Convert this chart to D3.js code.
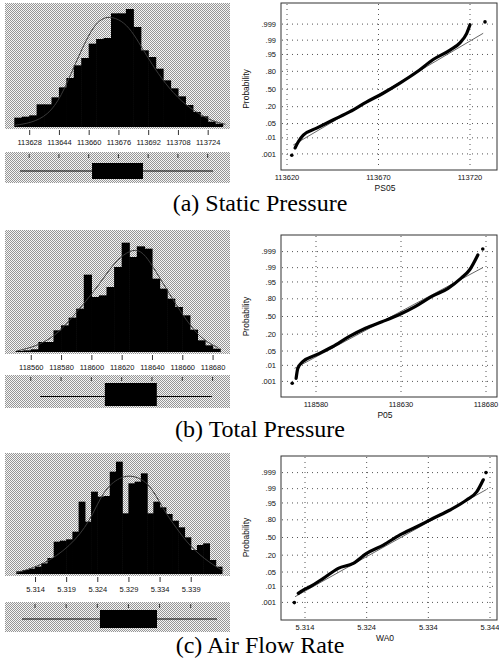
<!DOCTYPE html>
<html>
<head>
<meta charset="utf-8">
<script src="https://cdn.jsdelivr.net/npm/d3@7/dist/d3.min.js"></script>
<style>
  html, body { margin: 0; padding: 0; background: #fff; }
  svg { display: block; }
  .tick-label { font-family: "Liberation Sans", Arial, sans-serif; font-size: 7.5px; fill: #111; }
  .axis-title { font-family: "Liberation Sans", Arial, sans-serif; font-size: 8.5px; fill: #111; }
  .caption { font-family: "Liberation Serif", "Times New Roman", serif; font-size: 24px; fill: #000; }
</style>
</head>
<body>
<svg id="chart" width="499" height="659"></svg>
<script>
// ---------------- data ----------------

// probability axis (shared by the three normal plots)
const probTicks = [0.001, 0.01, 0.05, 0.20, 0.50, 0.80, 0.95, 0.99, 0.999];
const probLabels = [".001", ".01", ".05", ".20", ".50", ".80", ".95", ".99", ".999"];

// (a) static pressure
const staticBinStart = 113620;
const staticBinWidth = 4;
const staticCounts = [28, 31, 35, 68, 68, 89, 119, 147, 185, 207, 250, 264, 267, 341, 341, 354, 300, 230, 210, 175, 140, 116, 92, 66, 45, 32, 16, 10];
const staticCurveX = [113620, 113629, 113638, 113645.2, 113652.4, 113661.4, 113666.8, 113671.4, 113677.6, 113683, 113688.4, 113693.8, 113701.1, 113710, 113719, 113726.3, 113733.5];
const staticCurveY = [5, 12, 35, 90, 185, 295, 325, 332, 320, 290, 240, 190, 130, 75, 40, 18, 8];
const staticHistTicks = [113628, 113644, 113660, 113676, 113692, 113708, 113724];
const staticBox = [113623.1, 113661.8, 113689.2, 113726.9]; // whisker lo, q1, q3, whisker hi
const staticProbTicks = [113620, 113670, 113720];
const staticSampleX = [113622.6, 113624.4, 113626.2, 113628.9, 113636.2, 113645.1, 113654.4, 113663.6, 113672.5, 113681.7, 113690.9, 113699.9, 113709.1, 113714.5, 113718.2, 113720, 113728.2];
const staticSampleP = [0.0008, 0.0025, 0.006, 0.014, 0.031, 0.07, 0.14, 0.27, 0.42, 0.61, 0.79, 0.92, 0.968, 0.986, 0.996, 0.9989, 0.9993];
const staticFitX = [113623.4, 113727.2];
const staticFitP = [0.0038, 0.996];

// (b) total pressure
const totalBinStart = 118550;
const totalBinWidth = 5;
const totalCounts = [3, 5, 8, 30, 30, 65, 80, 103, 130, 232, 165, 170, 195, 255, 328, 285, 317, 310, 220, 190, 160, 135, 110, 67, 35, 20, 10];
const totalCurveX = [118550.8, 118566.1, 118579.3, 118590.3, 118602.4, 118612.3, 118618.9, 118627.6, 118634.2, 118640.8, 118647.4, 118656.2, 118665, 118673.8, 118683.7];
const totalCurveY = [3, 20, 60, 120, 185, 250, 285, 310, 300, 255, 205, 140, 80, 35, 13];
const totalHistTicks = [118560, 118580, 118600, 118620, 118640, 118660, 118680];
const totalBox = [118566.1, 118608.9, 118643.2, 118679.5];
const totalProbTicks = [118580, 118630, 118680];
const totalSampleX = [118566.0, 118568.3, 118569.3, 118572.2, 118580, 118589.7, 118599.4, 118609.1, 118618.8, 118628.5, 118638.3, 118647.9, 118657.7, 118665.4, 118670.3, 118675.2, 118678.1];
const totalSampleP = [0.00074, 0.0016, 0.0068, 0.0158, 0.0336, 0.075, 0.168, 0.288, 0.40, 0.528, 0.68, 0.827, 0.91, 0.966, 0.9865, 0.9983, 0.99934];
const totalFitX = [118567.4, 118678.1];
const totalFitP = [0.0068, 0.99];

// (c) air flow rate
const flowBinStart = 5.311;
const flowBinWidth = 0.001;
const flowCounts = [8, 12, 16, 22, 32, 48, 97, 100, 104, 127, 217, 157, 247, 232, 234, 307, 337, 182, 272, 277, 302, 182, 217, 200, 180, 160, 140, 110, 72, 87, 92, 42, 22];
const flowCurveX = [5.31106, 5.31533, 5.31962, 5.32283, 5.32497, 5.32765, 5.32978, 5.33246, 5.3346, 5.33675, 5.33889, 5.3421, 5.34424];
const flowCurveY = [4, 27, 82, 157, 252, 292, 297, 272, 192, 137, 82, 32, 10];
const flowHistTicks = [5.314, 5.319, 5.324, 5.329, 5.334, 5.339];
const flowBox = [5.31191, 5.32443, 5.33359, 5.34322];
const flowProbTicks = [5.314, 5.324, 5.334, 5.344];
const flowSampleX = [5.31227, 5.31291, 5.31372, 5.31481, 5.31697, 5.3194, 5.32183, 5.324, 5.3267, 5.3294, 5.33211, 5.3348, 5.33751, 5.3402, 5.34184, 5.34291, 5.34335];
const flowSampleP = [0.00097, 0.0039, 0.0062, 0.0096, 0.026, 0.071, 0.109, 0.226, 0.36, 0.548, 0.696, 0.82, 0.905, 0.963, 0.985, 0.997, 0.999];
const flowFitX = [5.31238, 5.34346];
const flowFitP = [0.0024, 0.989];

// ---------------- helpers ----------------

// inverse of the standard normal cdf (Acklam), used for the probability axis
function probit(p) {
  const a = [-3.969683028665376e+01, 2.209460984245205e+02, -2.759285104469687e+02, 1.383577518672690e+02, -3.066479806614716e+01, 2.506628277459239e+00];
  const b = [-5.447609879822406e+01, 1.615858368580409e+02, -1.556989798598866e+02, 6.680131188771972e+01, -1.328068155288572e+01];
  const c = [-7.784894002430293e-03, -3.223964580411365e-01, -2.400758277161838e+00, -2.549732539343734e+00, 4.374664141464968e+00, 2.938163982698783e+00];
  const d = [7.784695709041462e-03, 3.224671290700398e-01, 2.445134137142996e+00, 3.754408661907416e+00];
  const plow = 0.02425;
  let q, r;
  if (p < plow) {
    q = Math.sqrt(-2 * Math.log(p));
    return (((((c[0]*q+c[1])*q+c[2])*q+c[3])*q+c[4])*q+c[5]) / ((((d[0]*q+d[1])*q+d[2])*q+d[3])*q+1);
  }
  if (p > 1 - plow) {
    q = Math.sqrt(-2 * Math.log(1 - p));
    return -(((((c[0]*q+c[1])*q+c[2])*q+c[3])*q+c[4])*q+c[5]) / ((((d[0]*q+d[1])*q+d[2])*q+d[3])*q+1);
  }
  q = p - 0.5; r = q * q;
  return (((((a[0]*r+a[1])*r+a[2])*r+a[3])*r+a[4])*r+a[5])*q / (((((b[0]*r+b[1])*r+b[2])*r+b[3])*r+b[4])*r+1);
}

const svg = d3.select("#chart");

// dithered grey like the scanned panels
const pat = svg.append("defs").append("pattern")
  .attr("id", "dither").attr("patternUnits", "userSpaceOnUse")
  .attr("width", 2).attr("height", 2);
pat.append("rect").attr("width", 2).attr("height", 2).attr("fill", "#f6f6f6");
pat.append("rect").attr("x", 0).attr("y", 0).attr("width", 1).attr("height", 1).attr("fill", "#969696");
pat.append("rect").attr("x", 1).attr("y", 1).attr("width", 1).attr("height", 1).attr("fill", "#969696");

const rows = [
  {
    counts: staticCounts, binStart: staticBinStart, binWidth: staticBinWidth,
    curveX: staticCurveX, curveY: staticCurveY, histTicks: staticHistTicks, box: staticBox,
    probTicksX: staticProbTicks, sampleX: staticSampleX, sampleP: staticSampleP, fitX: staticFitX, fitP: staticFitP,
    fmtHist: d3.format("d"), fmtProb: d3.format("d"), title: "PS05", caption: "(a) Static Pressure",
    hist: { top: 3, base: 127, domain: [113615, 113736] },
    boxPanel: { top: 152, bottom: 183, boxTop: 163, boxBottom: 179, mid: 171 },
    prob: { top: 3, bottom: 170, domain: [113620, 113720], range: [287, 470], zMid: 89 },
    capY: 211
  },
  {
    counts: totalCounts, binStart: totalBinStart, binWidth: totalBinWidth,
    curveX: totalCurveX, curveY: totalCurveY, histTicks: totalHistTicks, box: totalBox,
    probTicksX: totalProbTicks, sampleX: totalSampleX, sampleP: totalSampleP, fitX: totalFitX, fitP: totalFitP,
    fmtHist: d3.format("d"), fmtProb: d3.format("d"), title: "P05", caption: "(b) Total Pressure",
    hist: { top: 230, base: 352, domain: [118543, 118691.5] },
    boxPanel: { top: 375, bottom: 408, boxTop: 383, boxBottom: 406, mid: 396.5 },
    prob: { top: 235, bottom: 397, domain: [118580, 118680], range: [316, 486], zMid: 316.5 },
    capY: 437
  },
  {
    counts: flowCounts, binStart: flowBinStart, binWidth: flowBinWidth,
    curveX: flowCurveX, curveY: flowCurveY, histTicks: flowHistTicks, box: flowBox,
    probTicksX: flowProbTicks, sampleX: flowSampleX, sampleP: flowSampleP, fitX: flowFitX, fitP: flowFitP,
    fmtHist: d3.format(".3f"), fmtProb: d3.format(".3f"), title: "WA0", caption: "(c) Air Flow Rate",
    hist: { top: 453, base: 574, domain: [5.30918, 5.34531] },
    boxPanel: { top: 602, bottom: 632, boxTop: 610, boxBottom: 628, mid: 619 },
    prob: { top: 456, bottom: 620, domain: [5.314, 5.344], range: [305, 490], zMid: 537.5 },
    capY: 653
  }
];

const histLeft = 5, histRight = 230;
const probLeft = 281, probRight = 497;
const zUnit = 21;

rows.forEach(row => {
  const g = svg.append("g");
  const h = row.hist;

  // ---- histogram ----
  const x = d3.scaleLinear().domain(h.domain).range([histLeft, histRight]);
  const y = d3.scaleLinear().domain([0, (h.base - h.top) * 3]).range([h.base, h.top]);

  g.append("rect")
    .attr("x", histLeft).attr("y", h.top)
    .attr("width", histRight - histLeft).attr("height", h.base - h.top + 2)
    .attr("fill", "url(#dither)");

  const bins = row.counts.map((c, i) => ({
    x0: row.binStart + i * row.binWidth,
    x1: row.binStart + (i + 1) * row.binWidth,
    n: c
  }));

  g.selectAll(".bar").data(bins).join("rect")
    .attr("class", "bar")
    .attr("x", d => x(d.x0))
    .attr("y", d => y(d.n))
    .attr("width", d => x(d.x1) - x(d.x0) + 0.6)
    .attr("height", d => y(0) - y(d.n))
    .attr("fill", "#000");

  const curvePts = row.curveX.map((v, i) => [v, row.curveY[i]]);
  g.append("path")
    .datum(curvePts)
    .attr("fill", "none")
    .attr("stroke", "#3a3a3a")
    .attr("stroke-width", 1)
    .attr("d", d3.line().x(d => x(d[0])).y(d => y(d[1])).curve(d3.curveBasis));

  // axis under the histogram
  const axis = g.append("g").attr("transform", `translate(0,${h.base + 3})`)
    .call(d3.axisBottom(x).tickValues(row.histTicks).tickSize(5).tickFormat(row.fmtHist));
  axis.select(".domain").remove();
  axis.selectAll("line").attr("stroke", "#333");
  axis.selectAll("text").attr("class", "tick-label").attr("y", 10).attr("font-size", null).attr("font-family", null);

  // ---- box plot ----
  const bp = row.boxPanel;
  g.append("rect")
    .attr("x", histLeft).attr("y", bp.top)
    .attr("width", histRight - histLeft).attr("height", bp.bottom - bp.top)
    .attr("fill", "url(#dither)");
  g.selectAll(".btick").data(row.histTicks).join("line")
    .attr("class", "btick")
    .attr("x1", d => x(d)).attr("x2", d => x(d))
    .attr("y1", bp.top + 2).attr("y2", bp.top + 6)
    .attr("stroke", "#333");
  g.append("line")
    .attr("x1", x(row.box[0])).attr("x2", x(row.box[3]))
    .attr("y1", bp.mid).attr("y2", bp.mid)
    .attr("stroke", "#000").attr("stroke-width", 1.2);
  g.append("rect")
    .attr("x", x(row.box[1])).attr("y", bp.boxTop)
    .attr("width", x(row.box[2]) - x(row.box[1])).attr("height", bp.boxBottom - bp.boxTop)
    .attr("fill", "#000");

  // ---- normal probability plot ----
  const p = row.prob;
  const px = d3.scaleLinear().domain(p.domain).range(p.range);
  const pz = d3.scaleLinear().domain([-1, 1]).range([p.zMid + zUnit, p.zMid - zUnit]);
  const py = v => pz(probit(v));

  g.append("rect")
    .attr("x", probLeft).attr("y", p.top)
    .attr("width", probRight - probLeft).attr("height", p.bottom - p.top)
    .attr("fill", "#fff").attr("stroke", "#333").attr("stroke-width", 1);

  g.selectAll(".hgrid").data(probTicks).join("line")
    .attr("class", "hgrid")
    .attr("x1", probLeft + 1).attr("x2", probRight - 1)
    .attr("y1", d => py(d)).attr("y2", d => py(d))
    .attr("stroke", "#555").attr("stroke-dasharray", "1,4");
  g.selectAll(".vgrid").data(row.probTicksX).join("line")
    .attr("class", "vgrid")
    .attr("x1", d => px(d)).attr("x2", d => px(d))
    .attr("y1", p.top + 1).attr("y2", p.bottom - 1)
    .attr("stroke", "#555").attr("stroke-dasharray", "1,4");

  g.selectAll(".ylab").data(probTicks).join("text")
    .attr("class", "tick-label ylab")
    .attr("x", probLeft - 5).attr("y", d => py(d)).attr("dy", "0.35em")
    .attr("text-anchor", "end")
    .text((d, i) => probLabels[i]);
  g.selectAll(".xlab").data(row.probTicksX).join("text")
    .attr("class", "tick-label xlab")
    .attr("x", d => px(d)).attr("y", p.bottom + 10)
    .attr("text-anchor", "middle")
    .text(d => row.fmtProb(d));

  g.append("text").attr("class", "axis-title")
    .attr("x", (probLeft + probRight) / 2 - 4).attr("y", p.bottom + 21)
    .attr("text-anchor", "middle").text(row.title);
  g.append("text").attr("class", "axis-title")
    .attr("transform", `translate(${probLeft - 32},${p.zMid}) rotate(-90)`)
    .attr("text-anchor", "middle").text("Probability");

  // fitted normal line
  const fitPts = row.fitX.map((v, i) => [v, row.fitP[i]]);
  g.append("path").datum(fitPts)
    .attr("fill", "none").attr("stroke", "#555").attr("stroke-width", 0.9)
    .attr("d", d3.line().x(d => px(d[0])).y(d => py(d[1])));

  // sample points: dense band in the middle, loose dots at the ends
  const pts = row.sampleX.map((v, i) => [v, row.sampleP[i]]);
  g.append("path").datum(pts.slice(1, pts.length - 1))
    .attr("fill", "none").attr("stroke", "#000").attr("stroke-width", 3.2)
    .attr("stroke-linecap", "round").attr("stroke-linejoin", "round")
    .attr("d", d3.line().x(d => px(d[0])).y(d => py(d[1])).curve(d3.curveMonotoneX));
  g.selectAll(".dot").data([pts[0], pts[pts.length - 1]]).join("circle")
    .attr("class", "dot")
    .attr("cx", d => px(d[0])).attr("cy", d => py(d[1])).attr("r", 1.8)
    .attr("fill", "#000");

  // caption
  g.append("text").attr("class", "caption")
    .attr("x", 260).attr("y", row.capY)
    .attr("text-anchor", "middle").text(row.caption);
});
</script>
</body>
</html>
